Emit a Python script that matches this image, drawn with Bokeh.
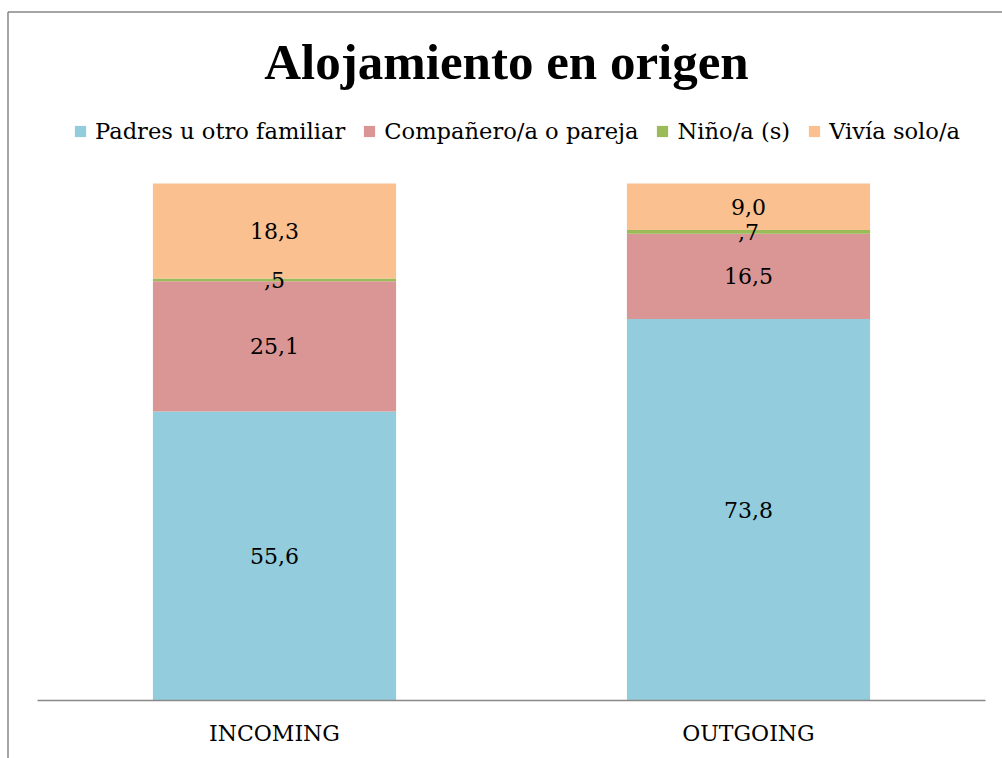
from bokeh.plotting import figure
from bokeh.models import Range1d, ColumnDataSource, LabelSet, Label
from bokeh.core.properties import value
from bokeh.embed import file_html
from bokeh.resources import INLINE

# ---- data ----
categories = ["INCOMING", "OUTGOING"]
series_names = ["Padres u otro familiar", "Compañero/a o pareja", "Niño/a (s)", "Vivía solo/a"]
padres = [55.6, 73.8]
companero = [25.1, 16.5]
nino = [0.5, 0.7]
vivia = [18.3, 9.0]
colors = ["#93CDDD", "#D99694", "#9BBB59", "#FAC090"]
title_text = "Alojamiento en origen"

keys = ["padres", "companero", "nino", "vivia"]
raw = {"padres": padres, "companero": companero, "nino": nino, "vivia": vivia}
n = len(categories)
xs = [i + 0.5 for i in range(n)]

# 100% stacked: normalise each category
totals = [sum(raw[k][i] for k in keys) for i in range(n)]
norm = {k: [raw[k][i] / totals[i] * 100 for i in range(n)] for k in keys}
data = {"x": xs}
data.update(norm)
source = ColumnDataSource(data)


def fmt(v):
    s = f"{v:.1f}".replace(".", ",")
    if s.startswith("0"):
        s = s[1:]
    return s


lx, ly, lt = [], [], []
for i in range(n):
    base = 0.0
    for k in keys:
        h = norm[k][i]
        lx.append(xs[i])
        ly.append(base + h / 2)
        lt.append(fmt(raw[k][i]))
        base += h
label_source = ColumnDataSource(dict(x=lx, y=ly, text=lt))

SERIF = "DejaVu Serif"
W, H = 1002, 758
PX_X = 474.0          # pixels per category slot
PX_Y = 517.0 / 100    # pixels per percent
FRAME_LEFT, FRAME_RIGHT = 37, 985
BASE_Y = 700          # baseline pixel row (from top)

x_lo = -FRAME_LEFT / PX_X
x_hi = n + (W - FRAME_RIGHT) / PX_X
y_lo = -(H - BASE_Y) / PX_Y
y_hi = BASE_Y / PX_Y

p = figure(
    x_range=Range1d(x_lo, x_hi),
    y_range=Range1d(y_lo, y_hi),
    width=W, height=H,
    output_backend="svg", toolbar_location=None,
    x_axis_location=None, y_axis_location=None,
    min_border=0,
)
p.background_fill_color = "white"
p.border_fill_color = "white"
p.outline_line_color = None
p.xgrid.visible = False
p.ygrid.visible = False

# chart-area border (only left and top edges are within view)
bx = x_lo + 7.5 / PX_X
by = y_hi - 11.5 / PX_Y
p.segment(x0=[bx, bx], y0=[by, by], x1=[bx, x_hi + 1], y1=[y_lo - 1, by],
          line_color="#878787", line_width=1.5)

p.vbar_stack(keys, x="x", width=0.513, color=colors, line_color=None,
             source=source, legend_label=series_names)

# category axis baseline
p.segment(x0=[0], y0=[0], x1=[n], y1=[0], line_color="#898989", line_width=1.5)

labels = LabelSet(x="x", y="y", text="text", source=label_source,
                  text_align="center", text_baseline="middle",
                  text_font=value(SERIF), text_font_size="22px", text_color="black")
p.add_layout(labels)

# category labels
cat_source = ColumnDataSource(dict(x=xs, y=[-33 / PX_Y] * n, text=categories))
p.add_layout(LabelSet(x="x", y="y", text="text", source=cat_source,
                      text_align="center", text_baseline="middle",
                      text_font=value(SERIF), text_font_size="22px", text_color="black"))

# title
p.add_layout(Label(x=n / 2, y=(BASE_Y - 61) / PX_Y, text=title_text, x_offset=-5,
                   text_align="center", text_baseline="middle",
                   text_font="Liberation Serif", text_font_style="bold",
                   text_font_size="51px", text_color="black"))

# legend
lg = p.legend[0]
lg.orientation = "horizontal"
lg.location = (73, (H - BASE_Y) + (BASE_Y - 131 - 13))
lg.padding = 0
lg.margin = 0
lg.spacing = 17
lg.label_standoff = 8
lg.glyph_width = 14
lg.glyph_height = 14
lg.label_height = 26
lg.border_line_color = None
lg.background_fill_alpha = 0
lg.label_text_font = SERIF
lg.label_text_font_size = "22.6px"
lg.label_text_color = "black"

open("out.html", "w").write(file_html(p, INLINE))
